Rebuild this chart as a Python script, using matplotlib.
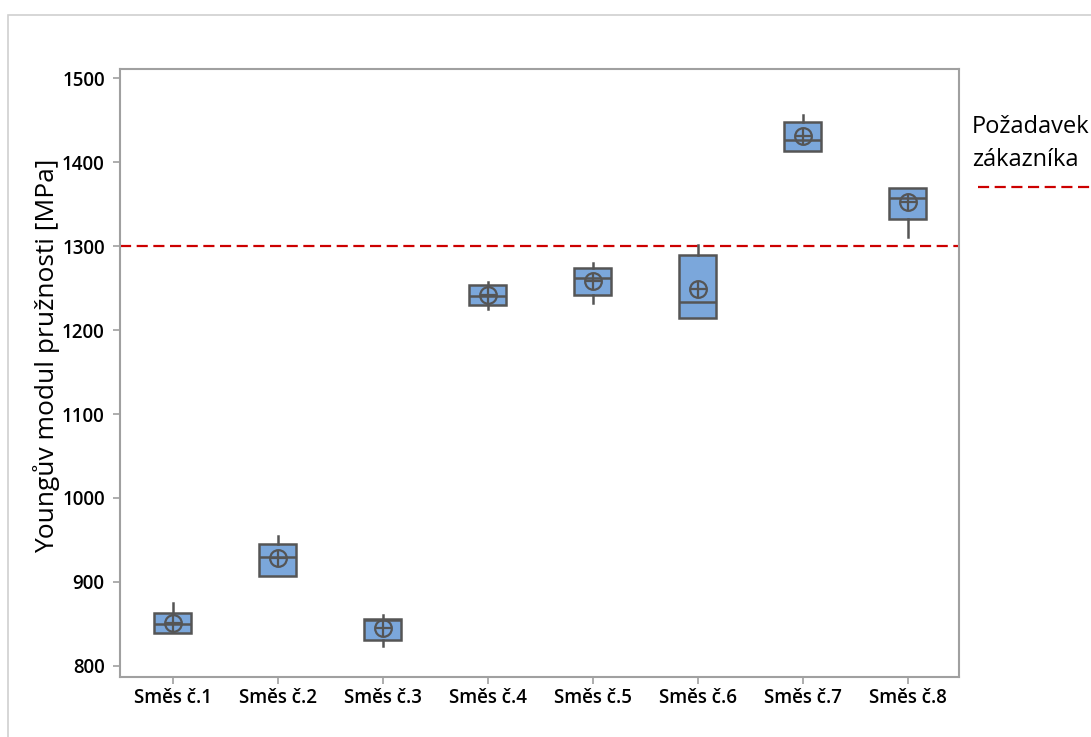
import matplotlib
matplotlib.use("Agg")
import matplotlib.pyplot as plt
from matplotlib.lines import Line2D
from matplotlib.patches import Rectangle

plt.rcParams['font.family'] = ['Open Sans', 'DejaVu Sans']

# Youngův modul pro jednotlivé směsi [MPa]
smesi = ['Směs č.1', 'Směs č.2', 'Směs č.3', 'Směs č.4',
         'Směs č.5', 'Směs č.6', 'Směs č.7', 'Směs č.8']
q1 = [839, 907, 831, 1230, 1242, 1214, 1414, 1332]
median = [850, 930, 854, 1241, 1262, 1233, 1426, 1358]
q3 = [863, 945, 856, 1254, 1274, 1289, 1448, 1369]
w_lo = [839, 907, 824, 1225, 1232, 1214, 1414, 1311]
w_hi = [875, 955, 860, 1257, 1280, 1301, 1456, 1369]
prumer = [851, 928, 845, 1242, 1259, 1249, 1431, 1353]
pozadavek = 1300

W, H = 1091, 737
fig = plt.figure(figsize=(W / 100, H / 100), dpi=100)
ax = fig.add_axes([120 / W, 1 - 677.3 / H, (959 - 120) / W, (677.3 - 69) / H])

stats = []
for i in range(len(smesi)):
    stats.append(dict(med=median[i], q1=q1[i], q3=q3[i],
                      whislo=w_lo[i], whishi=w_hi[i], fliers=[]))

pos = list(range(1, len(smesi) + 1))
edge = '#555555'
ax.bxp(stats, positions=pos, widths=0.345, showcaps=False, showfliers=False,
       patch_artist=True,
       boxprops=dict(facecolor='#7BA7DB', edgecolor=edge, linewidth=1.8),
       medianprops=dict(color=edge, linewidth=1.8),
       whiskerprops=dict(color=edge, linewidth=1.8))

# symbol průměru: kroužek s křížkem
ax.plot(pos, prumer, linestyle='none', marker='o', markersize=12,
        markerfacecolor='none', markeredgecolor=edge, markeredgewidth=1.6, zorder=5)
ax.plot(pos, prumer, linestyle='none', marker='+', markersize=12,
        markeredgecolor=edge, markeredgewidth=1.6, zorder=5)

dash = (0, (5, 2.5))
ax.axhline(pozadavek, color='#CC0000', linestyle=dash, linewidth=1.6, zorder=1)

ax.set_xlim(0.5, 8.49)
ax.set_ylim(786.2, 1511.2)
ax.set_yticks(range(800, 1501, 100))
ax.set_xticks(pos)
ax.set_xticklabels(smesi)

for s in ax.spines.values():
    s.set_color('#A0A0A0')
    s.set_linewidth(1.5)
ax.tick_params(axis='both', direction='out', length=5, width=1.2, color='#A0A0A0')
ax.tick_params(axis='x', labelsize=13.5, pad=3)
ax.tick_params(axis='y', labelsize=13.5, pad=6)
for lab in ax.get_xticklabels() + ax.get_yticklabels():
    lab.set_fontweight('semibold')

ax.set_ylabel('Youngův modul pružnosti [MPa]', fontsize=19, fontweight='medium')
ax.yaxis.set_label_coords(-0.072, 0.528)

# legenda vpravo
fig.text(972 / W, 1 - 127 / H, 'Požadavek', fontsize=17, va='center', ha='left')
fig.text(972 / W, 1 - 160 / H, 'zákazníka', fontsize=17, va='center', ha='left')
fig.add_artist(Line2D([978 / W, 1.0], [1 - 187 / H, 1 - 187 / H], color='#CC0000',
                      linestyle=dash, linewidth=1.6))

# rámeček grafu
fig.add_artist(Rectangle((8 / W, -0.1), 1.2, 1 - 15 / H + 0.1, fill=False,
                         edgecolor='#D0D0D0', linewidth=1.2))

fig.savefig('out.png', dpi=100)
